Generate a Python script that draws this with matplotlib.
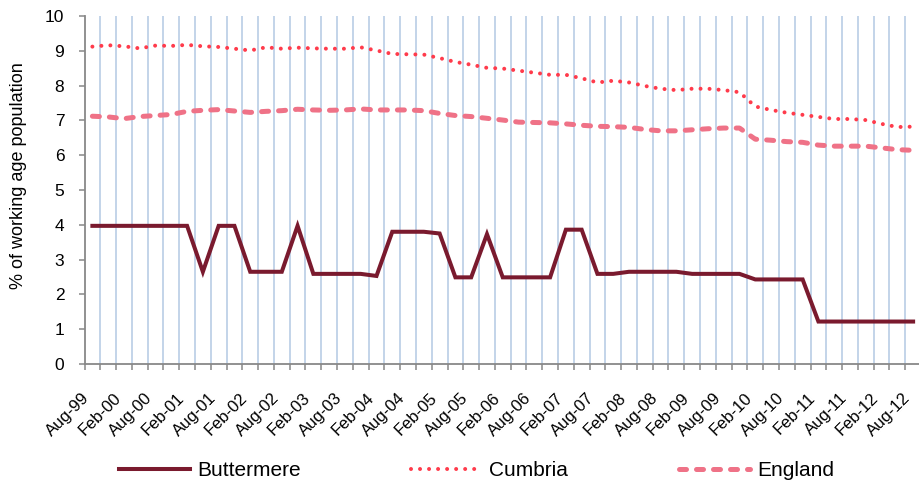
import matplotlib.pyplot as plt
import matplotlib.transforms as mtransforms
import numpy as np
from matplotlib.ticker import FixedLocator, NullFormatter

plt.rcParams["font.family"] = ["Liberation Sans", "DejaVu Sans"]

# Quarterly series, Aug-99 to Aug-12 (53 quarters); labels every second quarter.
TICK_LABELS = [
    "Aug-99", "Feb-00", "Aug-00", "Feb-01", "Aug-01", "Feb-02", "Aug-02",
    "Feb-03", "Aug-03", "Feb-04", "Aug-04", "Feb-05", "Aug-05", "Feb-06",
    "Aug-06", "Feb-07", "Aug-07", "Feb-08", "Aug-08", "Feb-09", "Aug-09",
    "Feb-10", "Aug-10", "Feb-11", "Aug-11", "Feb-12", "Aug-12",
]

BUTTERMERE = [
    3.97, 3.97, 3.97, 3.97, 3.97, 3.97, 3.97, 2.65, 3.97, 3.97,
    2.65, 2.65, 2.65, 3.97, 2.59, 2.59, 2.59, 2.59, 2.53, 3.80,
    3.80, 3.80, 3.75, 2.49, 2.49, 3.73, 2.49, 2.49, 2.49, 2.49,
    3.86, 3.86, 2.59, 2.59, 2.65, 2.65, 2.65, 2.65, 2.59, 2.59,
    2.59, 2.59, 2.43, 2.43, 2.43, 2.43, 1.22, 1.22, 1.22, 1.22,
    1.22, 1.22, 1.22,
]

CUMBRIA = [
    9.12, 9.16, 9.13, 9.07, 9.15, 9.14, 9.17, 9.13, 9.11, 9.06,
    9.01, 9.10, 9.06, 9.09, 9.07, 9.06, 9.06, 9.10, 9.01, 8.91,
    8.90, 8.89, 8.79, 8.68, 8.60, 8.51, 8.49, 8.43, 8.37, 8.31,
    8.31, 8.21, 8.09, 8.14, 8.09, 7.99, 7.91, 7.87, 7.91, 7.91,
    7.87, 7.81, 7.40, 7.30, 7.22, 7.16, 7.10, 7.04, 7.04, 7.01,
    6.90, 6.81, 6.82,
]

ENGLAND = [
    7.12, 7.10, 7.05, 7.11, 7.14, 7.17, 7.26, 7.29, 7.31, 7.27,
    7.23, 7.26, 7.28, 7.32, 7.30, 7.29, 7.30, 7.33, 7.30, 7.30,
    7.30, 7.28, 7.20, 7.14, 7.11, 7.06, 7.01, 6.95, 6.94, 6.93,
    6.90, 6.86, 6.83, 6.82, 6.80, 6.74, 6.70, 6.70, 6.73, 6.76,
    6.78, 6.78, 6.46, 6.43, 6.39, 6.37, 6.29, 6.26, 6.26, 6.26,
    6.21, 6.16, 6.14,
]

GRID_COLOR = "#b9cde5"
AXIS_COLOR = "#888888"

fig = plt.figure(figsize=(9.19, 4.88), dpi=100)
ax = fig.add_axes([84.5 / 919, 124 / 488, 836.5 / 919, 348 / 488])

x = np.arange(len(BUTTERMERE))
n = len(x)

ax.plot(x, BUTTERMERE, color="#7a1a2e", lw=2.9, solid_joinstyle="miter",
        label="Buttermere", zorder=4)
ax.plot(x, CUMBRIA, color="#ff3b4b", lw=2.9, linestyle=(0, (0.001, 2.24)),
        dash_capstyle="round", label="Cumbria", zorder=3)
ax.plot(x, ENGLAND, color="#ef7287", lw=3.6, linestyle=(0, (1.4, 2.0)),
        dash_capstyle="round", label="England", zorder=3)

ax.set_xlim(-0.5, n - 0.5)
ax.set_ylim(0, 10)
ax.set_yticks(np.arange(0, 11, 1))

# category boundaries carry the ticks and grid lines; labels sit on categories
bounds = np.arange(-0.5, n, 1.0)
ax.xaxis.set_major_locator(FixedLocator(bounds))
ax.xaxis.set_major_formatter(NullFormatter())
ax.xaxis.set_minor_locator(FixedLocator(x[::2]))
ax.set_xticklabels(TICK_LABELS, minor=True, rotation=45, ha="right",
                   va="top", fontsize=12)
shift = mtransforms.ScaledTranslation(5 / 72, 0, fig.dpi_scale_trans)
for lbl in ax.xaxis.get_minorticklabels():
    lbl.set_transform(lbl.get_transform() + shift)
ax.tick_params(axis="x", which="minor", length=0, pad=19)
ax.tick_params(axis="x", which="major", length=4.5, width=1.1,
               color=AXIS_COLOR, direction="out")
ax.tick_params(axis="y", length=4.5, width=1.1, color=AXIS_COLOR,
               direction="out", pad=10, labelsize=12.5)

for b in bounds[1:]:
    ax.axvline(b, color=GRID_COLOR, lw=1.2, zorder=1)

for side in ("top", "right"):
    ax.spines[side].set_visible(False)
for side in ("left", "bottom"):
    ax.spines[side].set_color(AXIS_COLOR)
    ax.spines[side].set_linewidth(1.3)
ax.spines["bottom"].set_zorder(5)

ax.set_ylabel("% of working age population", fontsize=13)
ax.yaxis.set_label_coords(-0.069, 0.54)

fig.legend(loc="center", bbox_to_anchor=(476.5 / 919, 17 / 488), ncol=3,
           frameon=False, fontsize=15, handlelength=3.4, handletextpad=0.35,
           columnspacing=5.3)

fig.savefig("out.png", dpi=100)
